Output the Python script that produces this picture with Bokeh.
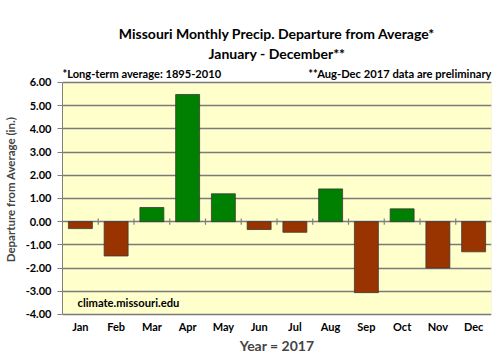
from bokeh.plotting import figure
from bokeh.models import FixedTicker, Label, Range1d, ColumnDataSource, BoxAnnotation
from bokeh.embed import file_html
from bokeh.resources import INLINE

months = ["Jan", "Feb", "Mar", "Apr", "May", "Jun", "Jul", "Aug", "Sep", "Oct", "Nov", "Dec"]
departure = [-0.30, -1.48, 0.61, 5.48, 1.20, -0.34, -0.46, 1.41, -3.06, 0.55, -2.00, -1.30]
y_ticks = [-4, -3, -2, -1, 0, 1, 2, 3, 4, 5, 6]

title_1 = "Missouri Monthly Precip. Departure from Average*"
title_2 = "January - December**"
note_left = "*Long-term average: 1895-2010"
note_right = "**Aug-Dec 2017 data are preliminary"
credit = "climate.missouri.edu"
x_title = "Year = 2017"
y_title = "Departure from Average (in.)"

FONT = "Lato"
pos = list(range(1, len(months) + 1))
colors = ["#008000" if v >= 0 else "#993300" for v in departure]
src = ColumnDataSource(dict(x=pos, top=departure, color=colors))

ymin, ymax = min(y_ticks), max(y_ticks)
# frame extended above (titles) and below (x axis drawn at ymin)
p = figure(width=492, height=352, output_backend="svg", toolbar_location=None,
           x_range=Range1d(0.5, len(months) + 0.5),
           y_range=Range1d(ymin - 1.64, ymax + 2.41),
           min_border_left=30, min_border_right=1, min_border_top=26, min_border_bottom=0)
p.background_fill_color = "white"
p.border_fill_color = "white"
p.outline_line_color = None

p.add_layout(BoxAnnotation(bottom=ymin, top=ymax, fill_color="#FFFFCC", fill_alpha=1,
                           line_color="#b8b8b8", line_width=1, level="underlay"))
p.hspan(y=y_ticks, line_color="#7a7a7a", line_width=1.4)

p.vbar(x="x", top="top", bottom=0, width=0.67, fill_color="color", line_color="#3a3a3a",
       line_width=0.8, source=src)

bounds = [i + 0.5 for i in pos[:-1]]
p.segment(x0=bounds, x1=bounds, y0=[-0.13] * len(bounds), y1=[0.13] * len(bounds),
          line_color="#808080", line_width=1.2)

p.yaxis.ticker = FixedTicker(ticks=y_ticks)
p.yaxis.bounds = (ymin, ymax)
p.yaxis.major_label_overrides = {t: f"{t:.2f}" for t in y_ticks}
p.yaxis.major_label_text_font = FONT
p.yaxis.major_label_text_font_style = "bold"
p.yaxis.major_label_text_font_size = "11px"
p.yaxis.major_label_text_color = "black"
p.yaxis.axis_line_color = "#808080"
p.yaxis.major_tick_line_color = "#808080"
p.yaxis.major_tick_out = 5
p.yaxis.major_tick_in = 0
p.yaxis.minor_tick_line_color = None
p.yaxis.major_label_standoff = 6
p.yaxis.axis_label = y_title
p.yaxis.axis_label_text_font = FONT
p.yaxis.axis_label_text_font_style = "bold"
p.yaxis.axis_label_text_font_size = "11.5px"
p.yaxis.axis_label_standoff = 6

p.xaxis.fixed_location = ymin
p.xaxis.ticker = FixedTicker(ticks=pos)
p.xaxis.major_label_overrides = {i: m for i, m in zip(pos, months)}
p.xaxis.major_label_text_font = FONT
p.xaxis.major_label_text_font_style = "bold"
p.xaxis.major_label_text_font_size = "11px"
p.xaxis.major_label_text_color = "black"
p.xaxis.axis_line_color = None
p.xaxis.major_tick_line_color = None
p.xaxis.major_tick_out = 0
p.xaxis.minor_tick_line_color = None
p.xaxis.major_label_standoff = 6
p.xaxis.axis_label = x_title
p.xaxis.axis_label_text_font = FONT
p.xaxis.axis_label_text_font_style = "bold"
p.xaxis.axis_label_text_font_size = "14px"
p.xaxis.axis_label_standoff = 0

p.xgrid.grid_line_color = None
p.ygrid.grid_line_color = None

xmid = (len(months) + 1) / 2
for txt, off in [(title_1, 40), (title_2, 20)]:
    p.add_layout(Label(x=xmid, y=ymax, y_offset=off, text=txt, text_align="center",
                       text_baseline="bottom", text_font=FONT, text_font_style="bold",
                       text_font_size="14px", text_color="black"))

p.add_layout(Label(x=0.5, y=ymax, y_offset=2, text=note_left,
                   text_align="left", text_baseline="bottom", text_font=FONT,
                   text_font_style="bold", text_font_size="11.1px", text_color="black"))
p.add_layout(Label(x=len(months) + 0.5, y=ymax, y_offset=2, text=note_right,
                   text_align="right", text_baseline="bottom", text_font=FONT,
                   text_font_style="bold", text_font_size="11.2px", text_color="black"))
p.add_layout(Label(x=0.5, y=-3.5, x_offset=15, text=credit,
                   text_align="left", text_baseline="middle", text_font=FONT,
                   text_font_style="bold", text_font_size="11.2px", text_color="black"))

open("out.html", "w").write(file_html(p, INLINE))
